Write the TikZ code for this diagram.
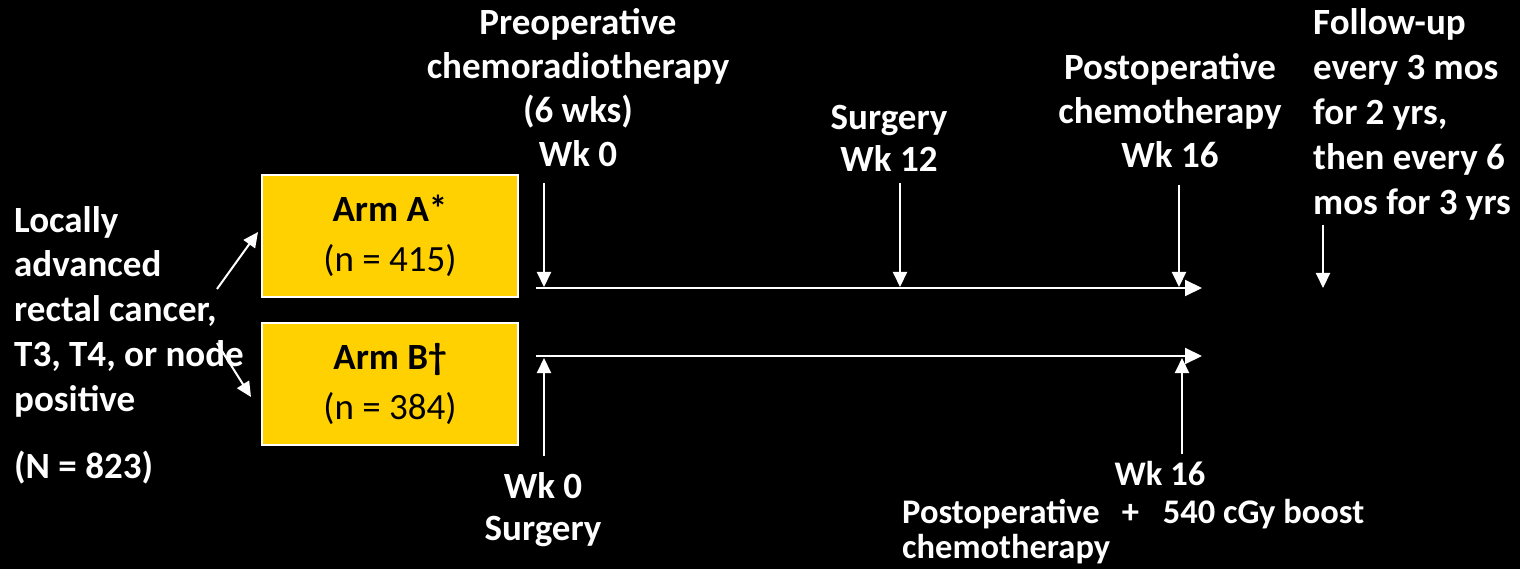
\documentclass[tikz,border=0pt]{standalone}
\usepackage{fontspec}
\setmainfont{Carlito}
\usetikzlibrary{arrows.meta}
\definecolor{armyellow}{HTML}{FFD100}
\begin{document}
\begin{tikzpicture}[x=1pt,y=-1pt,
  lbl/.style={text=white,font=\fontsize{37}{44}\selectfont\bfseries,inner sep=0pt},
  armbox/.style={draw=white,line width=2pt,fill=armyellow,minimum width=256pt,minimum height=122pt,align=center,font=\fontsize{37}{50}\selectfont,inner sep=0pt},
  arr/.style={white,line width=2pt,-{Triangle[length=15pt,width=14pt]}},
  tl/.style={white,line width=2pt,-{Triangle[length=17pt,width=16pt]}}]
\fill[black] (0,0) rectangle (1520,569);
\useasboundingbox (0,0) rectangle (1520,569);

% left text
\node[lbl,align=left,anchor=base west,font=\fontsize{37}{44.75}\selectfont\bfseries] (pop) at (14,411) {Locally\\advanced\\rectal cancer,\\T3, T4, or node\\positive};
\node[lbl,anchor=base west] (N) at (14,478) {(N = 823)};

% arm boxes
\node[armbox] (armA) at (390,236) {{\bfseries Arm A*}\\(n = 415)};
\node[armbox] (armB) at (390,384) {{\bfseries Arm B\textdagger}\\(n = 384)};

\coordinate (sA) at (217,289);
\coordinate (tA) at (258,232);
\coordinate (sB) at (217,343);
\coordinate (tB) at (251,397);
\draw[arr] (sA) -- (tA);
\draw[arr] (sB) -- (tB);

% timelines
\coordinate (a0) at (536,288);
\coordinate (a1) at (1202,288);
\coordinate (b0) at (536,356);
\coordinate (b1) at (1202,356);
\draw[tl] (a0) -- (a1);
\draw[tl] (b0) -- (b1);

% top labels
\node[lbl,align=center,anchor=base] (preop) at (578,167) {Preoperative\\chemoradiotherapy\\(6 wks)\\Wk 0};
\node[lbl,align=center,anchor=base,font=\fontsize{37}{42}\selectfont\bfseries] (surg) at (889,172) {Surgery\\Wk 12};
\node[lbl,align=center,anchor=base] (postop) at (1170,168) {Postoperative\\chemotherapy\\Wk 16};
\node[lbl,align=left,anchor=base west,font=\fontsize{37}{45}\selectfont\bfseries] (follow) at (1313,215) {Follow-up\\every 3 mos\\for 2 yrs,\\then every 6\\mos for 3 yrs};

% down arrows arm A
\coordinate (d1s) at (544,183);
\coordinate (d1e) at (544,287);
\coordinate (d2s) at (900,183);
\coordinate (d2e) at (900,287);
\coordinate (d3s) at (1179,185);
\coordinate (d3e) at (1179,287);
\coordinate (d4s) at (1323,225);
\coordinate (d4e) at (1323,288);
\draw[arr] (d1s) -- (d1e);
\draw[arr] (d2s) -- (d2e);
\draw[arr] (d3s) -- (d3e);
\draw[arr] (d4s) -- (d4e);

% up arrows arm B
\coordinate (u1s) at (544,456);
\coordinate (u1e) at (544,358);
\coordinate (u2s) at (1182,454);
\coordinate (u2e) at (1182,358);
\draw[arr] (u1s) -- (u1e);
\draw[arr] (u2s) -- (u2e);

% bottom labels
\node[lbl,align=center,anchor=base,font=\fontsize{37}{42}\selectfont\bfseries] (bsurg) at (543,540) {Wk 0\\Surgery};
\node[lbl,anchor=base,font=\fontsize{34.5}{35}\selectfont\bfseries] (bwk) at (1160,485) {Wk 16};
\node[lbl,align=left,anchor=base west,font=\fontsize{34.5}{35}\selectfont\bfseries] (bpost) at (902,558) {Postoperative\hspace{22pt}+\hspace{24pt}540 cGy boost\\chemotherapy};
\end{tikzpicture}
\end{document}
